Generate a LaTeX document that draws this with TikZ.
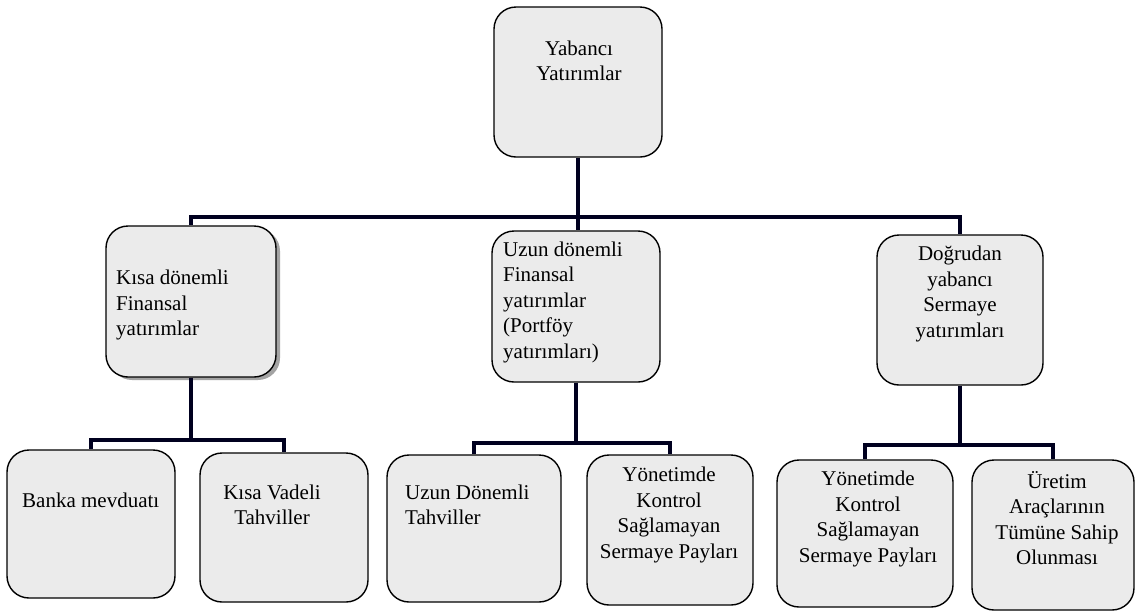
\documentclass[tikz,border=0pt]{standalone}
\usepackage{fontspec}
\setmainfont{Liberation Serif}
\usetikzlibrary{calc,positioning,shadows}

\tikzset{
  kutu/.style={draw=black, line width=1.4pt, rounded corners=22pt, fill=gray!16,
    minimum width=168pt, minimum height=150pt, inner sep=0pt},
  yazi/.style={inner sep=0pt, font=\fontsize{21}{25.5}\selectfont},
  bag/.style={line width=4.5pt, draw=black!88!blue},
}

\begin{document}
\begin{tikzpicture}[x=1pt,y=-1pt]
\useasboundingbox (0,0) rectangle (1138,611);

% kutular
\node[kutu] (kok) at (578,82) {};
\node[kutu, minimum width=170pt, minimum height=151pt,
  drop shadow={shadow xshift=4pt, shadow yshift=-3pt, fill=black!45, opacity=0.8}] (kisa) at (191,301.5) {};
\node[kutu, minimum height=151pt] (uzun) at (576,306.5) {};
\node[kutu, minimum width=166pt] (dogru) at (960,310) {};

\node[kutu, minimum height=148pt] (banka) at (91,524) {};
\node[kutu, minimum height=149pt] (kvade) at (284,527.5) {};
\node[kutu, minimum width=174pt, minimum height=147pt] (udt) at (474,528.5) {};
\node[kutu, minimum width=166pt] (yon) at (670,530) {};
\node[kutu, minimum width=176pt, minimum height=147pt] (yonb) at (865,533.5) {};
\node[kutu, minimum width=162pt] (uretim) at (1053,535) {};

% yazilar
\node[yazi, align=center] (kokyazi) at (579,61) {Yabancı\\Yatırımlar};
\node[yazi, align=left, anchor=west] (kisayazi) at (116,305) {Kısa dönemli\\Finansal\\yatırımlar};
\node[yazi, align=left, anchor=west] (uzunyazi) at (503,302) {Uzun dönemli\\Finansal\\yatırımlar\\(Portföy\\yatırımları)};
\node[yazi, align=center] (dogruyazi) at (960,294) {Doğrudan\\yabancı\\Sermaye\\yatırımları};
\node[yazi, anchor=west] (bankayazi) at (22,500) {Banka mevduatı};
\node[yazi, align=center] (kvadeyazi) at (272,505) {Kısa Vadeli\\Tahviller};
\node[yazi, align=left, anchor=west] (udtyazi) at (405,505) {Uzun Dönemli\\Tahviller};
\node[yazi, align=center] (yonyazi) at (669,515) {Yönetimde\\Kontrol\\Sağlamayan\\Sermaye Payları};
\node[yazi, align=center] (yonbyazi) at (868,519) {Yönetimde\\Kontrol\\Sağlamayan\\Sermaye Payları};
\node[yazi, align=center] (uretimyazi) at (1057,518) {Üretim\\Araçlarının\\Tümüne Sahip\\Olunması};

% baglantilar
\coordinate (catal) at (0,217);
\coordinate (catal1) at (0,440);
\coordinate (catal2) at (0,443);
\coordinate (catal3) at (0,445);

\draw[bag] (kok.south) -- (kok.south |- uzun.north);
\draw[bag] (kisa.north) -- (kisa.north |- catal) -- (dogru.north |- catal) -- (dogru.north);

\draw[bag] (kisa.south) -- (kisa.south |- catal1);
\draw[bag] (banka.north) -- (banka.north |- catal1) -- (kvade.north |- catal1) -- (kvade.north);

\draw[bag] (uzun.south) -- (uzun.south |- catal2);
\draw[bag] (udt.north) -- (udt.north |- catal2) -- (yon.north |- catal2) -- (yon.north);

\draw[bag] (dogru.south) -- (dogru.south |- catal3);
\draw[bag] (yonb.north) -- (yonb.north |- catal3) -- (uretim.north |- catal3) -- (uretim.north);
\end{tikzpicture}
\end{document}
